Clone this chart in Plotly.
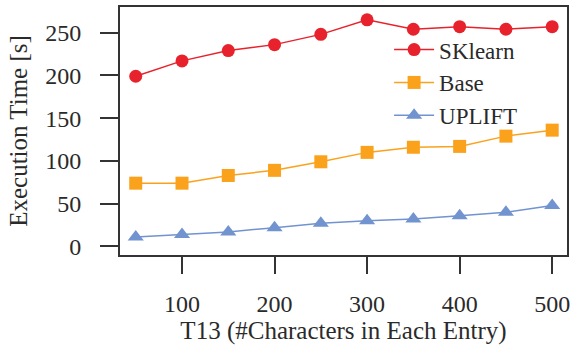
import plotly.graph_objects as go

x_vals = [50, 100, 150, 200, 250, 300, 350, 400, 450, 500]
sklearn = [199, 217, 229, 236, 248, 265, 254, 257, 254, 257]
base = [74, 74, 83, 89, 99, 110, 116, 117, 129, 136]
uplift = [11, 14, 17, 22, 27, 30, 32, 36, 40, 48]
x_ticks = [100, 200, 300, 400, 500]
y_ticks = [0, 50, 100, 150, 200, 250]

FONT = "Liberation Serif, Times New Roman, Times, serif"
TXT = "#2a2a2a"

fig = go.Figure()
fig.add_trace(go.Scatter(x=x_vals, y=sklearn, name="SKlearn", mode="lines+markers",
                         line=dict(color="#e8222c", width=1.5),
                         marker=dict(symbol="circle", size=13, color="#e8222c")))
fig.add_trace(go.Scatter(x=x_vals, y=base, name="Base", mode="lines+markers",
                         line=dict(color="#fba21c", width=1.5),
                         marker=dict(symbol="square", size=13, color="#fba21c")))
fig.add_trace(go.Scatter(x=x_vals, y=uplift, name="UPLIFT", mode="lines+markers",
                         line=dict(color="#7193d0", width=1.5),
                         marker=dict(symbol="triangle-up", size=14, color="#7193d0")))

fig.update_layout(
    width=575, height=347,
    margin=dict(l=120, r=7, t=5, b=92),
    paper_bgcolor="white", plot_bgcolor="white",
    font=dict(family=FONT, size=24, color=TXT),
    showlegend=True,
    legend=dict(x=0.602, y=0.915, xanchor="left", yanchor="top",
                bgcolor="rgba(0,0,0,0)", font=dict(family=FONT, size=23, color=TXT),
                tracegroupgap=0, itemwidth=40),
    xaxis=dict(range=[33, 516], tickvals=x_ticks, ticks="outside", ticklen=17,
               tickwidth=2, tickcolor="#333", showline=True, linecolor="#333",
               linewidth=2, mirror=True, showgrid=False, zeroline=False,
               ticklabelstandoff=9, tickfont=dict(family=FONT, size=24),
               title=dict(text="T13 (#Characters in Each Entry)", standoff=4,
                          font=dict(family=FONT, size=25))),
    yaxis=dict(range=[-10, 280], tickvals=y_ticks, ticks="outside", ticklen=18,
               tickwidth=2, tickcolor="#333", showline=True, linecolor="#333",
               linewidth=2, mirror=True, showgrid=False, zeroline=False,
               ticklabelstandoff=14, tickfont=dict(family=FONT, size=24),
               title=dict(text="Execution Time [s]", standoff=10,
                          font=dict(family=FONT, size=25))),
)

fig.write_html("out.html", config={"displayModeBar": False},
               post_script="document.body.style.margin='0';")
